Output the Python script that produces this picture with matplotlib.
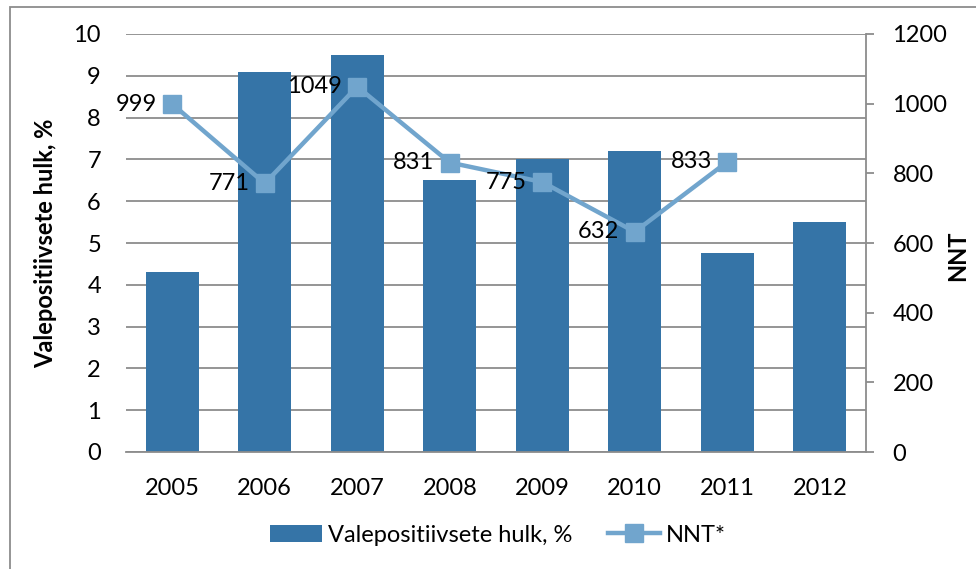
import matplotlib.pyplot as plt
from matplotlib.patches import Rectangle

years = ['2005', '2006', '2007', '2008', '2009', '2010', '2011', '2012']
false_pos = [4.3, 9.1, 9.5, 6.5, 7.0, 7.2, 4.75, 5.5]
nnt = [999, 771, 1049, 831, 775, 632, 833]

bar_color = '#3574a7'
line_color = '#71a5cd'
grid_color = '#8c8c8c'

plt.rcParams['font.family'] = ['Lato', 'DejaVu Sans']
plt.rcParams['font.size'] = 17

fig = plt.figure(figsize=(9.76, 5.69), dpi=100)
ax = fig.add_axes([126 / 976, 1 - 452 / 569, 740 / 976, 418 / 569])
ax2 = ax.twinx()

x = list(range(len(years)))
bars = ax.bar(x, false_pos, width=0.57, color=bar_color, zorder=2,
              label='Valepositiivsete hulk, %')
ax.set_xlim(-0.5, len(years) - 0.5)
ax.set_ylim(0, 10)
ax.set_yticks(range(0, 11))
ax.set_xticks(x)
ax.set_xticklabels(years)
ax.yaxis.grid(True, color=grid_color, linewidth=1.3, zorder=0)
ax.set_axisbelow(True)
for s in ['top', 'right', 'left']:
    ax.spines[s].set_visible(False)
ax.spines['bottom'].set_color(grid_color)
ax.spines['bottom'].set_linewidth(1.3)
ax.tick_params(axis='y', length=0, pad=18)
ax.tick_params(axis='x', length=0, pad=19)
ax.set_ylabel('Valepositiivsete hulk, %', fontweight='bold', labelpad=12)

line, = ax2.plot(x[:len(nnt)], nnt, color=line_color, linewidth=3.2,
                 marker='s', markersize=13, zorder=3, label='NNT*')
ax2.set_ylim(0, 1200)
ax2.set_yticks(range(0, 1201, 200))
for s in ['top', 'left', 'bottom']:
    ax2.spines[s].set_visible(False)
ax2.spines['right'].set_color(grid_color)
ax2.spines['right'].set_linewidth(1.3)
ax2.tick_params(axis='y', direction='out', length=6, color=grid_color,
                width=1.3, pad=13)
ax2.set_ylabel('NNT', fontweight='bold')
ax2.yaxis.set_label_coords((946 - 126) / 740, 0.47)

for xi, v in zip(x, nnt):
    ax2.annotate(str(v), (xi, v), xytext=(-11, 0), textcoords='offset points',
                 ha='right', va='center', zorder=4)

fig.legend([bars, line], ['Valepositiivsete hulk, %', 'NNT*'],
           loc='center', bbox_to_anchor=(0.51, 1 - 535 / 569), ncol=2,
           frameon=False, handlelength=2.2, columnspacing=1.5,
           handletextpad=0.25)

fig.patches.append(Rectangle((10 / 976, -0.1), 1.2, 1 - 7 / 569 + 0.1,
                             transform=fig.transFigure, fill=False,
                             edgecolor='#8c8c8c', linewidth=1.3))

fig.savefig('out.png', dpi=100)
